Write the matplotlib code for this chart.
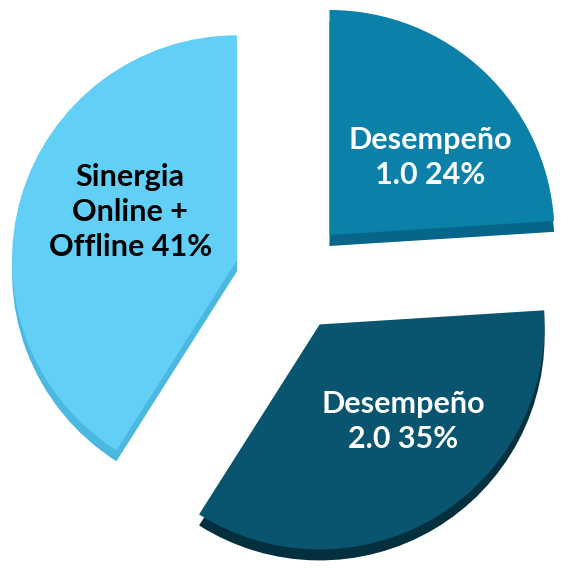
import numpy as np
from matplotlib import pyplot as plt

names = ['Desempeño\n1.0', 'Desempeño\n2.0', 'Sinergia\nOnline +\nOffline']
shares = [24, 35, 41]
top_colors = ['#0b80a9', '#09546f', '#62cff7']
side_colors = ['#05668a', '#03303f', '#4bb8e0']
text_colors = ['white', 'white', 'black']

W, H = 568, 569
cx, cy = 291, H - 276
R = 225
expl = 0.25
depth = 11
# label placement inside each slice: turn (deg) from the mid angle, distance / R
lab_turn = [-9, 10, -8]
lab_dist = [0.565, 0.57, 0.52]

fig = plt.figure(figsize=(W / 100, H / 100), dpi=100)
ax = fig.add_axes([0, 0, 1, 1])

# pie explode is in data units here, so scale by radius
off = [expl * R] * len(shares)

# side of the "3d" pie: same wedges, moved down
ax.pie(shares, colors=side_colors, startangle=90, counterclock=False,
       explode=off, radius=R, center=(cx, cy - depth),
       wedgeprops=dict(linewidth=0))
wedges, _ = ax.pie(shares, colors=top_colors, startangle=90, counterclock=False,
                   explode=off, radius=R, center=(cx, cy),
                   wedgeprops=dict(linewidth=0))

for i, w in enumerate(wedges):
    mid = (w.theta1 + w.theta2) / 2
    a = np.deg2rad(mid + lab_turn[i])
    r = lab_dist[i] * R
    ox, oy = w.center
    ax.text(ox + r * np.cos(a), oy + r * np.sin(a), f'{names[i]} {shares[i]}%',
            ha='center', va='center', color=text_colors[i], fontsize=22,
            fontweight='bold', family='Lato', linespacing=1.3)

ax.set_xlim(0, W)
ax.set_ylim(0, H)
ax.set_aspect('equal')
ax.axis('off')
plt.savefig('out.png', dpi=100)
